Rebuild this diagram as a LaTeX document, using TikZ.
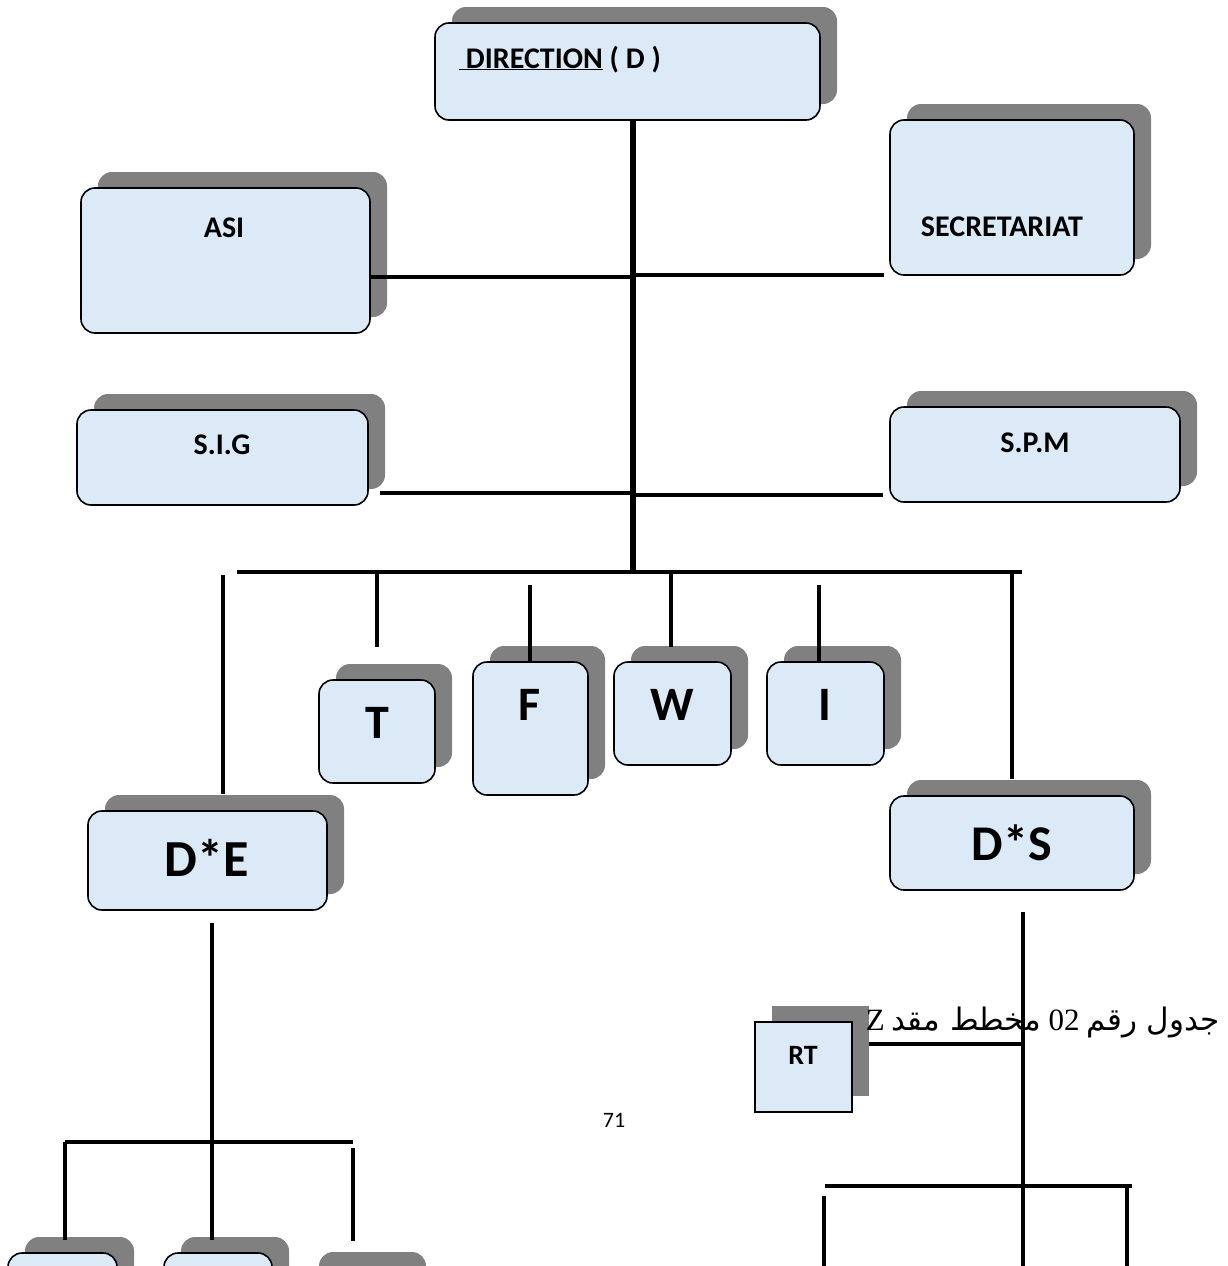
\documentclass[tikz,border=0pt]{standalone}
\usepackage{fontspec}
\setmainfont{Carlito}
\newfontfamily\arabicfont[Script=Arabic]{DejaVu Sans}
\newfontfamily\seriffont{Liberation Serif}
\TeXXeTstate=1
\usetikzlibrary{shadows}
\definecolor{boxblue}{HTML}{DCE9F6}
\definecolor{shadowgray}{HTML}{808080}
\tikzset{
  box/.style={draw=black, line width=1.6pt, fill=boxblue, rounded corners=14pt, inner sep=0pt,
    copy shadow={shadow xshift=17pt, shadow yshift=16pt, fill=shadowgray, draw=none}},
  sqbox/.style={box, rounded corners=0pt},
  lbl/.style={font=\fontsize{30}{34}\selectfont\bfseries, inner sep=0pt},
  big/.style={font=\fontsize{48}{54}\selectfont\bfseries, inner sep=0pt},
  ln/.style={line width=4.8pt},
  thk/.style={line width=6pt},
}
\begin{document}
\begin{tikzpicture}[x=1pt,y=-1pt]
\useasboundingbox (0,0) rectangle (1228,1266);
\clip (0,0) rectangle (1228,1266);

% boxes
\node[box, minimum width=385pt, minimum height=97pt] (dir) at (627.5,71.5) {};
\node[box, minimum width=289pt, minimum height=145pt] (asi) at (225.5,260.5) {};
\node[box, minimum width=244pt, minimum height=155pt] (sec) at (1012,197.5) {};
\node[box, minimum width=291pt, minimum height=95pt] (sig) at (222.5,457.5) {};
\node[box, minimum width=290pt, minimum height=95pt] (spm) at (1035,454.5) {};
\node[box, minimum width=116pt, minimum height=103pt] (t) at (377,731.5) {};
\node[box, minimum width=115pt, minimum height=133pt] (f) at (530.5,728.5) {};
\node[box, minimum width=117pt, minimum height=103pt] (w) at (672.5,713.5) {};
\node[box, minimum width=117pt, minimum height=103pt] (i) at (825.5,713.5) {};
\node[box, minimum width=239pt, minimum height=99pt] (de) at (207.5,860.5) {};
\node[box, minimum width=244pt, minimum height=94pt] (ds) at (1012,843) {};
\node[sqbox, minimum width=97pt, minimum height=90pt] (rt) at (803.5,1067) {};
\node[box, minimum width=109pt, minimum height=100pt] (b1) at (62.5,1303) {};
\node[box, minimum width=108pt, minimum height=100pt] (b2) at (218,1303) {};
\node[box, minimum width=107pt, minimum height=100pt] (b3) at (355.5,1318) {};

% labels
\node[lbl, anchor=base west] (dirT) at (459,68) {\underline{\ DIRECTION} ( D )};
\node[lbl] (asiT) at (224,228) {ASI};
\node[lbl] (secT) at (1002,227) {SECRETARIAT};
\node[lbl] (sigT) at (222,445) {S.I.G};
\node[lbl] (spmT) at (1035,443) {S.P.M};
\node[big] (tT) at (377,723) {T};
\node[big] (fT) at (530,705) {F};
\node[big] (wT) at (672,705) {W};
\node[big] (iT) at (825,705) {I};
\node[big, font=\fontsize{52}{58}\selectfont\bfseries] (deT) at (207,858) {D*E};
\node[big, font=\fontsize{50}{56}\selectfont\bfseries] (dsT) at (1012,843) {D*S};
\node[lbl, font=\fontsize{28}{32}\selectfont\bfseries] (rtT) at (803,1055) {RT};
\node[font=\fontsize{22}{26}\selectfont, inner sep=0pt] (pg) at (614,1120) {71};
\node[font=\fontsize{31}{36}\selectfont, inner sep=0pt, anchor=base east] (cap) at (1220,1030)
  {\beginR{\arabicfont جدول رقم} \beginL{\seriffont 02}\endL{} {\arabicfont مخطط مقد} {\seriffont Z}\endR};

% junction coordinates
\coordinate (jBus) at (633,572);
\coordinate (hAsi) at (633,277);
\coordinate (hSec) at (633,275);
\coordinate (eSec) at (884,275);
\coordinate (sSig) at (380,493);
\coordinate (hSig) at (633,493);
\coordinate (hSpm) at (633,495);
\coordinate (eSpm) at (883,495);
\coordinate (busL) at (237,572);
\coordinate (busR) at (1022,572);
\coordinate (deTop) at (223,575);
\coordinate (tTop) at (377,572);
\coordinate (tEnd) at (377,647);
\coordinate (fTop) at (530,585);
\coordinate (wTop) at (671,572);
\coordinate (wEnd) at (671,647);
\coordinate (iTop) at (819,585);
\coordinate (dsTop) at (1012,572);
\coordinate (deDn) at (212,923);
\coordinate (bBusL) at (65,1142);
\coordinate (bBusR) at (353,1142);
\coordinate (b3Top) at (353,1148);
\coordinate (dsDn) at (1023,912);
\coordinate (rtJ) at (1023,1044);
\coordinate (rBusL) at (825,1186);
\coordinate (rBusR) at (1132,1186);
\coordinate (rLTop) at (824,1196);
\coordinate (rLEnd) at (824,1266);
\coordinate (rMEnd) at (1023,1266);
\coordinate (rREnd) at (1127,1266);

% connectors
\draw[thk] (dir.south -| jBus) -- (jBus);
\draw[ln] (asi.east |- hAsi) -- (hAsi);
\draw[ln] (hSec) -- (eSec);
\draw[ln] (sSig) -- (hSig);
\draw[ln] (hSpm) -- (eSpm);
\draw[ln] (busL) -- (busR);
\draw[ln] (deTop) -- ([yshift=16pt]de.north -| deTop);
\draw[ln] (tTop) -- (tEnd);
\draw[ln] (fTop) -- (f.north -| fTop);
\draw[ln] (wTop) -- (wEnd);
\draw[ln] (iTop) -- (i.north -| iTop);
\draw[ln] (dsTop) -- ([yshift=16pt]ds.north -| dsTop);
\draw[ln] (deDn) -- ([yshift=12pt]b2.north -| deDn);
\draw[ln] (bBusL) -- (bBusR);
\draw[ln] (bBusL) -- ([yshift=12pt]b1.north -| bBusL);
\draw[ln] (b3Top) -- ([yshift=26pt]b3.north -| b3Top);
\draw[ln] (dsDn) -- (rMEnd);
\draw[ln] ([xshift=16pt]rt.east |- rtJ) -- (rtJ);
\draw[ln] (rBusL) -- (rBusR);
\draw[ln] (rLTop) -- (rLEnd);
\draw[ln] (rBusR -| rREnd) -- (rREnd);
\end{tikzpicture}
\end{document}
